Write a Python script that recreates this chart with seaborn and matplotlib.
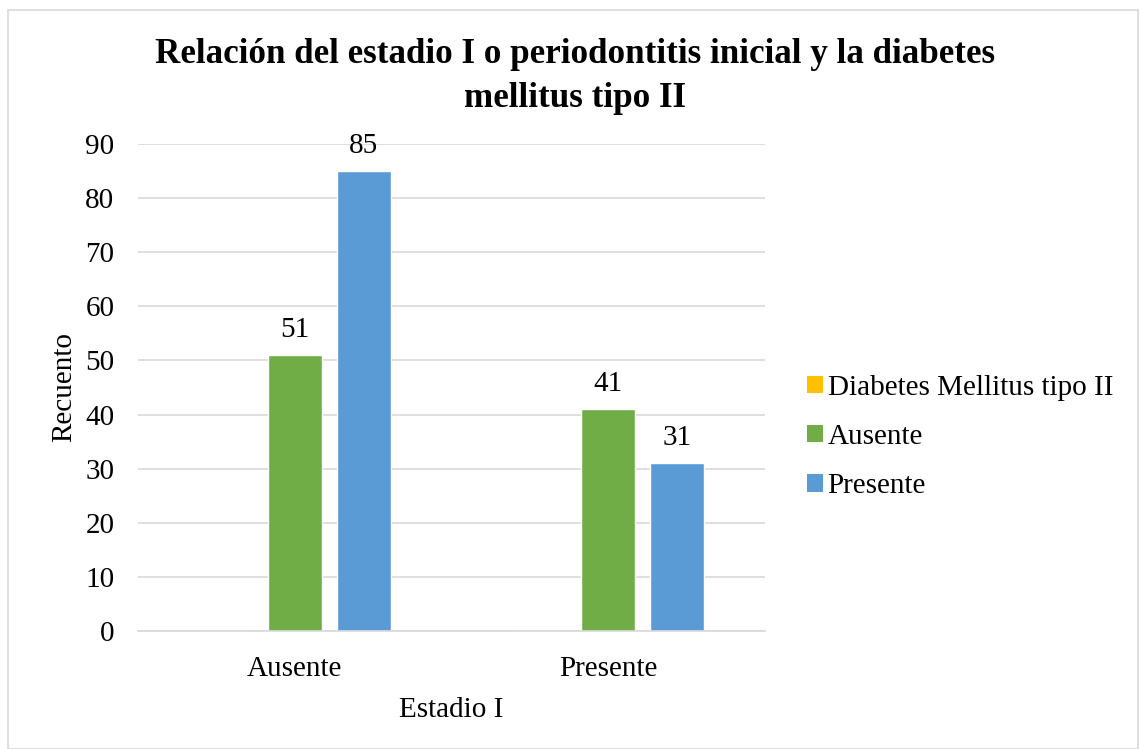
import matplotlib
matplotlib.use("Agg")
import matplotlib.pyplot as plt
import seaborn as sns
import pandas as pd
from matplotlib.patches import Rectangle, Patch

categories = ["Ausente", "Presente"]
series_names = ["Diabetes Mellitus tipo II", "Ausente", "Presente"]
diabetes_vals = [0, 0]
ausente_vals = [51, 41]
presente_vals = [85, 31]
colors = ["#FFC000", "#70AD47", "#5B9BD5"]

rows = []
for s, vals in zip(series_names, [diabetes_vals, ausente_vals, presente_vals]):
    for c, v in zip(categories, vals):
        rows.append({"Estadio I": c, "Serie": s, "Recuento": v})
df = pd.DataFrame(rows)

sns.set_theme(style="white")
plt.rcParams["font.family"] = ["Liberation Serif", "DejaVu Serif"]
plt.rcParams["text.color"] = "black"
plt.rcParams["axes.labelcolor"] = "black"
plt.rcParams["xtick.color"] = "black"
plt.rcParams["ytick.color"] = "black"

FS = 21

fig = plt.figure(figsize=(11.39, 7.49), dpi=100)
ax = fig.add_axes([138/1139, (749-631)/749, (765-138)/1139, (631-144)/749])

sns.barplot(data=df, x="Estadio I", y="Recuento", hue="Serie",
            hue_order=series_names, order=categories, palette=colors,
            width=0.66, gap=0.22, ax=ax, legend=False, errorbar=None,
            saturation=1)

ax.set_xlim(-0.5, 1.5)
ax.set_ylim(0, 90)
ax.set_yticks(range(0, 91, 10))
ax.yaxis.grid(True, color="#D9D9D9", linewidth=1.2)
ax.set_axisbelow(True)
for sp in ["top", "right", "left"]:
    ax.spines[sp].set_visible(False)
ax.spines["bottom"].set_color("#D9D9D9")
ax.spines["bottom"].set_linewidth(1.2)
ax.tick_params(axis="both", length=0, labelsize=FS, colors="black")
ax.tick_params(axis="y", pad=17)
ax.tick_params(axis="x", pad=18)
ax.set_xlabel("Estadio I", fontsize=FS, labelpad=11)
ax.set_ylabel("Recuento", fontsize=FS, labelpad=6)

for cont, vals in zip(ax.containers, [diabetes_vals, ausente_vals, presente_vals]):
    labels = [str(v) if v != 0 else "" for v in vals]
    ax.bar_label(cont, labels=labels, fontsize=FS, padding=9)

fig.suptitle("Relación del estadio I o periodontitis inicial y la diabetes\nmellitus tipo II",
             fontsize=25.2, fontweight="bold", x=(154+997)/2/1139, y=1-38/749, va="top",
             linespacing=1.45)

handles = [Patch(facecolor=c, edgecolor="none") for c in colors]
fig.legend(handles, series_names, loc="center left",
           bbox_to_anchor=(781/1139, 1-437/749), frameon=False, fontsize=FS,
           handlelength=0.55, handleheight=0.55, handletextpad=0.15, labelspacing=0.8)

fig.patches.append(Rectangle((8/1139, 0.5/749), 1130/1139, 739/749, transform=fig.transFigure,
                             fill=False, edgecolor="#D9D9D9", linewidth=1.2))

fig.savefig("out.png", dpi=100)
